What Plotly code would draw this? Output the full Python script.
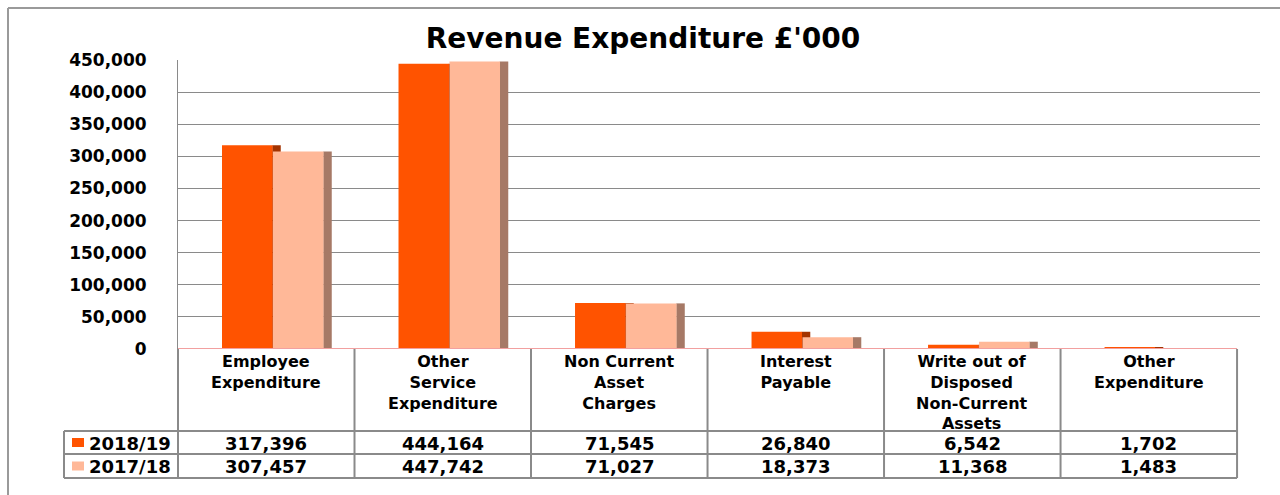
import plotly.graph_objects as go

categories = ["Employee<br>Expenditure", "Other<br>Service<br>Expenditure", "Non Current<br>Asset<br>Charges",
              "Interest<br>Payable", "Write out of<br>Disposed<br>Non-Current<br>Assets", "Other<br>Expenditure"]
cat_keys = ["c0", "c1", "c2", "c3", "c4", "c5"]
series_names = ["2018/19", "2017/18"]
values_2018 = [317396, 444164, 71545, 26840, 6542, 1702]
values_2017 = [307457, 447742, 71027, 18373, 11368, 1483]
y_ticks = [0, 50000, 100000, 150000, 200000, 250000, 300000, 350000, 400000, 450000]

front_colors = ["#FF5300", "#FFB898"]
side_colors = ["#A33300", "#A67966"]

W, H = 1280, 495
PX_L, PX_R = 178, 1260
PX_T, PX_B = 60, 349
ncat = len(categories)
extra = 0.13
unit = (PX_R - PX_L) / (ncat + extra)

def px(x):
    return x / W

def py(y):
    return 1 - y / H

fig = go.Figure()
series = [values_2018, values_2017]
front_off = [-44.25 / unit, 6.75 / unit]
front_w = 50.5 / unit
side_off = [6.0 / unit, 57.0 / unit]
side_w = 8.5 / unit

# draw order: side 2018, front 2018, side 2017, front 2017
for i, vals in enumerate(series):
    fig.add_trace(go.Bar(x=cat_keys, y=vals, offset=side_off[i], width=side_w,
                         marker=dict(color=side_colors[i], line=dict(width=0)),
                         showlegend=False, hoverinfo="skip"))
    fig.add_trace(go.Bar(x=cat_keys, y=vals, offset=front_off[i], width=front_w,
                         name=series_names[i],
                         marker=dict(color=front_colors[i], line=dict(width=0)),
                         showlegend=False))

font_b = dict(family="DejaVu Sans", size=17, color="black", weight=700)
font_v = dict(family="DejaVu Sans", size=18, color="black", weight=700)

fig.update_layout(
    width=W, height=H, autosize=False,
    margin=dict(l=0, r=0, t=0, b=0, pad=0),
    paper_bgcolor="white", plot_bgcolor="white",
    barmode="overlay",
    title=dict(text="Revenue Expenditure £'000", x=643 / W, xanchor="center",
               y=py(38), yanchor="middle",
               font=dict(family="DejaVu Sans", size=28, color="black", weight=700)),
    xaxis=dict(domain=[px(PX_L), px(PX_R)], type="category", categoryorder="array",
               categoryarray=cat_keys, range=[-0.5, ncat - 0.5 + extra],
               showticklabels=False, showgrid=False, zeroline=False, showline=False,
               fixedrange=True, automargin=False),
    yaxis=dict(domain=[py(PX_B), py(PX_T)], range=[0, 450000], tickvals=y_ticks,
               tickformat=",", tickfont=font_b, showgrid=True, gridcolor="#8a8a8a",
               gridwidth=1, zeroline=False, showline=True, linecolor="#8a8a8a",
               linewidth=1, ticks="", ticklabelstandoff=27, fixedrange=True,
               automargin=False),
)

shapes = []
grey = "#8a8a8a"
# outer frame
shapes.append(dict(type="line", xref="paper", yref="paper", x0=px(8), x1=px(1280), y0=py(8), y1=py(8),
                   line=dict(color="#9a9a9a", width=2)))
shapes.append(dict(type="line", xref="paper", yref="paper", x0=px(8), x1=px(8), y0=py(8), y1=py(495),
                   line=dict(color="#9a9a9a", width=2)))
# pink floor line over categories
shapes.append(dict(type="line", xref="x", yref="y", x0=-0.5, x1=ncat - 0.5, y0=0, y1=0,
                   line=dict(color="#F2A0A0", width=2)))
# table geometry
T_TOP, R1, R2, T_BOT = 349, 431, 454, 478
LEG_L = 64
col_px = [PX_L + unit * k for k in range(ncat + 1)]
for k, cx in enumerate(col_px):
    shapes.append(dict(type="line", xref="paper", yref="paper", x0=px(cx), x1=px(cx),
                       y0=py(T_TOP), y1=py(T_BOT), line=dict(color=grey, width=2)))
for yy in [R1, R2, T_BOT]:
    shapes.append(dict(type="line", xref="paper", yref="paper", x0=px(LEG_L), x1=px(col_px[-1]),
                       y0=py(yy), y1=py(yy), line=dict(color=grey, width=2)))
shapes.append(dict(type="line", xref="paper", yref="paper", x0=px(LEG_L), x1=px(LEG_L),
                   y0=py(R1), y1=py(T_BOT), line=dict(color=grey, width=2)))
# legend keys
for i, (y0, y1) in enumerate([(R1, R2), (R2, T_BOT)]):
    cy = (y0 + y1) / 2
    shapes.append(dict(type="rect", xref="paper", yref="paper", x0=px(72), x1=px(84),
                       y0=py(cy - 4.5), y1=py(cy + 4.5), fillcolor=front_colors[i], line=dict(width=0)))

annotations = []
for k, lab in enumerate(categories):
    cx = (col_px[k] + col_px[k + 1]) / 2
    annotations.append(dict(text=lab, xref="paper", yref="paper", x=px(cx), y=py(350),
                            xanchor="center", yanchor="top", showarrow=False, align="center",
                            font=dict(family="DejaVu Sans", size=16, color="black", weight=700)))
    for i, (vals, (y0, y1)) in enumerate(zip(series, [(R1, R2), (R2, T_BOT)])):
        annotations.append(dict(text=f"{vals[k]:,}", xref="paper", yref="paper", x=px(cx),
                                y=py((y0 + y1) / 2 + 0.5), xanchor="center", yanchor="middle",
                                showarrow=False, font=font_v))
for i, (y0, y1) in enumerate([(R1, R2), (R2, T_BOT)]):
    annotations.append(dict(text=series_names[i], xref="paper", yref="paper", x=px(87),
                            y=py((y0 + y1) / 2 + 0.5), xanchor="left", yanchor="middle",
                            showarrow=False, font=font_v))

fig.update_layout(shapes=shapes, annotations=annotations)
fig.write_html("out.html", config={"displayModeBar": False},
               post_script="document.body.style.margin='0';document.body.style.overflow='hidden';")
